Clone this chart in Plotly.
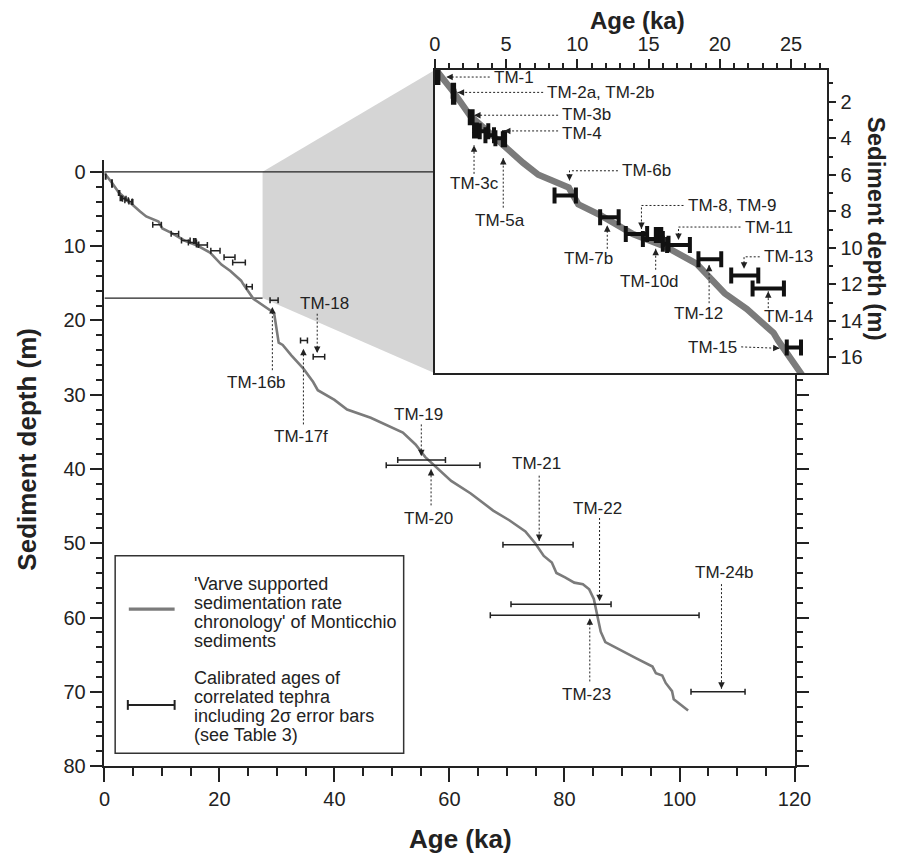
import plotly.graph_objects as go

W, H = 908, 865
FONT = "Liberation Sans, Arial, sans-serif"
INK = "#222222"
CURVE_COLOR = "#7b7b7b"

# ---------------- data ----------------
curve_age = [0.0, 0.2, 1.3, 2.47, 3.8, 5.0, 6.2, 7.26, 8.5, 9.4, 10.07, 11.64, 13.9, 16.23,
             18.36, 19.6, 20.34, 21.9, 23.77, 24.1, 25.55, 25.9, 29.5, 30.3, 31.0, 32.5, 34.6,
             36.3, 37.1, 40.0, 42.2, 46.3, 51.9, 54.1, 55.8, 57.1, 60.3, 63.7, 67.6, 70.4, 73.2,
             74.9, 76.4, 77.8, 78.6, 80.1, 81.7, 83.2, 84.3, 85.1, 85.7, 86.3, 87.1, 90.2, 92.5,
             95.3, 95.9, 97.0, 97.6, 98.7, 99.0, 101.5]
curve_depth = [0.0, 0.38, 1.46, 2.76, 3.68, 4.54, 5.35, 6.0, 6.42, 6.7, 7.62, 8.22, 9.24, 9.95,
               10.86, 11.95, 12.49, 13.35, 14.65, 15.08, 16.81, 17.1, 19.0, 23.0, 23.3, 24.7, 26.5,
               28.3, 29.4, 30.7, 32.0, 33.1, 35.1, 36.7, 38.4, 39.3, 41.6, 43.3, 45.6, 46.9, 48.4,
               50.0, 51.7, 52.6, 54.0, 54.6, 55.3, 55.5, 56.2, 57.5, 59.7, 61.9, 63.3, 64.6, 65.5,
               66.6, 67.5, 67.8, 68.8, 69.9, 71.0, 72.5]

tephra_name = ["TM-1", "TM-2a", "TM-2b", "TM-3b", "TM-3c", "", "", "TM-4", "TM-5a", "TM-6b",
               "TM-7b", "TM-8", "TM-9", "", "", "TM-10d", "TM-11", "TM-12", "TM-13", "TM-14",
               "TM-15", "TM-16b", "TM-17f", "TM-18", "TM-19", "TM-20", "TM-21", "TM-22", "TM-23",
               "TM-24b"]
tephra_age = [0.2, 1.3, 1.32, 2.55, 2.85, 3.45, 3.85, 4.55, 4.85, 9.15, 12.25, 14.15, 15.3, 15.55,
              15.85, 16.2, 17.1, 19.3, 21.75, 23.4, 25.2, 29.5, 34.7, 37.3, 55.15, 57.15, 75.4,
              79.4, 85.25, 106.7]
tephra_err = [0.05, 0.05, 0.05, 0.1, 0.1, 0.3, 0.3, 0.3, 0.08, 0.75, 0.65, 0.75, 0.7, 0.04, 0.04,
              0.2, 0.8, 0.8, 0.95, 1.1, 0.5, 0.7, 0.6, 1.0, 4.15, 8.15, 6.1, 8.7, 18.15, 4.7]
tephra_depth = [0.65, 1.4, 1.73, 2.85, 3.57, 3.62, 3.84, 4.0, 4.05, 7.14, 8.32, 9.24, 9.51, 9.3,
                9.3, 9.78, 9.84, 10.62, 11.51, 12.22, 15.46, 17.3, 22.7, 24.9, 38.8, 39.5, 50.2,
                58.2, 59.7, 70.0]

zoom_age_max = 27.5
zoom_depth_max = 17.0

# ---------------- geometry ----------------
main_x_dom = [101 / W, 809 / W]
main_y_dom = [1 - 776 / H, 1 - 162 / H]
inset_x_dom = [440 / W, 842 / W]
inset_y_dom = [1 - 378 / H, 1 - 71 / H]
main_xr = [0, 120]
main_yr = [80, -1.6]
inset_xr = [0, 27.5]
inset_yr = [16.86, 0.27]

AX = {
    "main": (main_x_dom, main_y_dom, main_xr, main_yr, "x", "y"),
    "inset": (inset_x_dom, inset_y_dom, inset_xr, inset_yr, "x2", "y2"),
}


def to_paper(which, xv, yv):
    xd, yd, xr, yr, _, _ = AX[which]
    px = xd[0] + (xv - xr[0]) / (xr[1] - xr[0]) * (xd[1] - xd[0])
    py = yd[0] + (yv - yr[0]) / (yr[1] - yr[0]) * (yd[1] - yd[0])
    return px, py


def px_scale(which):
    xd, yd, xr, yr, _, _ = AX[which]
    sx = (xd[1] - xd[0]) * W / (xr[1] - xr[0])
    sy = (yd[1] - yd[0]) * H / (yr[1] - yr[0])  # paper-up per unit
    return sx, sy


# callouts: label text, axes, label position, anchor, dotted path ending at arrow tip
callouts = [
    ("TM-1", "inset", (4.0, 0.65), "left", [(3.85, 0.65), (0.8, 0.65)]),
    ("TM-2a, TM-2b", "inset", (7.75, 1.49), "left", [(7.6, 1.49), (1.6, 1.49)]),
    ("TM-3b", "inset", (8.8, 2.68), "left", [(8.65, 2.74), (2.75, 2.74)]),
    ("TM-4", "inset", (8.8, 3.74), "left", [(8.65, 3.6), (4.85, 3.6)]),
    ("TM-3c", "inset", (2.75, 6.45), "center", [(2.75, 5.95), (2.75, 4.38)]),
    ("TM-5a", "inset", (4.6, 8.5), "center", [(4.8, 7.8), (4.8, 5.08)]),
    ("TM-6b", "inset", (13.0, 5.78), "left", [(12.85, 5.78), (9.45, 5.78), (9.45, 6.32)]),
    ("TM-7b", "inset", (10.75, 10.6), "center", [(12.1, 10.05), (12.1, 8.76)]),
    ("TM-8, TM-9", "inset", (17.6, 7.68), "left", [(17.45, 7.68), (14.5, 7.68), (14.5, 8.97)]),
    ("TM-11", "inset", (21.6, 8.86), "left", [(21.45, 8.86), (17.1, 8.86), (17.1, 9.57)]),
    ("TM-10d", "inset", (15.05, 11.85), "center", [(15.5, 11.2), (15.5, 10.05)]),
    ("TM-12", "inset", (18.5, 13.57), "center", [(19.25, 13.03), (19.25, 10.92)]),
    ("TM-13", "inset", (22.95, 10.49), "left", [(22.8, 10.49), (21.7, 10.49), (21.7, 11.14)]),
    ("TM-14", "inset", (24.8, 13.73), "center", [(23.4, 13.3), (23.4, 12.38)]),
    ("TM-15", "inset", (21.35, 15.46), "right", [(21.5, 15.42), (24.2, 15.5)]),
    ("TM-16b", "main", (26.4, 28.3), "center", [(29.2, 26.7), (29.2, 18.2)]),
    ("TM-17f", "main", (34.2, 35.6), "center", [(34.6, 34.0), (34.6, 23.8)]),
    ("TM-18", "main", (38.3, 17.7), "center", [(37.0, 19.1), (37.0, 24.4)]),
    ("TM-19", "main", (54.6, 32.7), "center", [(55.1, 34.0), (55.1, 38.3)]),
    ("TM-20", "main", (56.3, 46.6), "center", [(56.8, 44.9), (56.8, 40.0)]),
    ("TM-21", "main", (75.1, 39.2), "center", [(75.6, 40.9), (75.6, 49.7)]),
    ("TM-22", "main", (85.8, 45.3), "center", [(86.1, 46.6), (86.1, 57.8)]),
    ("TM-23", "main", (83.9, 70.4), "center", [(84.4, 68.6), (84.4, 60.1)]),
    ("TM-24b", "main", (107.8, 54.0), "center", [(107.3, 55.5), (107.3, 69.6)]),
]

fig = go.Figure()

# main curve and error bars
fig.add_trace(go.Scatter(x=curve_age, y=curve_depth, mode="lines", xaxis="x", yaxis="y",
                         line=dict(color=CURVE_COLOR, width=2.6), hoverinfo="skip",
                         showlegend=False))
fig.add_trace(go.Scatter(x=tephra_age, y=tephra_depth, mode="markers", xaxis="x", yaxis="y",
                         marker=dict(size=1, color="rgba(0,0,0,0)"),
                         error_x=dict(type="data", array=tephra_err, symmetric=True,
                                      color=INK, thickness=1.5, width=3),
                         hoverinfo="skip", showlegend=False))

# inset curve and error bars
in_idx = [i for i, d in enumerate(tephra_depth)
          if d <= zoom_depth_max and tephra_age[i] <= zoom_age_max]
fig.add_trace(go.Scatter(x=curve_age, y=curve_depth, mode="lines", xaxis="x2", yaxis="y2",
                         line=dict(color=CURVE_COLOR, width=6.5), hoverinfo="skip",
                         showlegend=False))
fig.add_trace(go.Scatter(x=[tephra_age[i] for i in in_idx], y=[tephra_depth[i] for i in in_idx],
                         mode="markers", xaxis="x2", yaxis="y2",
                         marker=dict(size=1, color="rgba(0,0,0,0)"),
                         error_x=dict(type="data", array=[tephra_err[i] for i in in_idx],
                                      symmetric=True, color="#111", thickness=4, width=8),
                         hoverinfo="skip", showlegend=False))

annotations = []

# callouts: dotted line + arrow head + label
for text, which, (lx, ly), anchor, path in callouts:
    _, _, _, _, xa, ya = AX[which]
    fig.add_trace(go.Scatter(x=[p[0] for p in path], y=[p[1] for p in path], mode="lines",
                             xaxis=xa, yaxis=ya, line=dict(color=INK, width=1, dash="2px,2px"),
                             hoverinfo="skip", showlegend=False))
    (x0, y0), (x1, y1) = path[-2], path[-1]
    sx, sy = px_scale(which)
    dxp = (x1 - x0) * sx
    dyp = -(y1 - y0) * sy  # screen-down positive
    n = (dxp ** 2 + dyp ** 2) ** 0.5
    annotations.append(dict(x=x1, y=y1, xref=xa, yref=ya, ax=-dxp / n * 8, ay=-dyp / n * 8,
                            axref="pixel", ayref="pixel", text="", showarrow=True,
                            arrowhead=2, arrowsize=1.3, arrowwidth=1, arrowcolor=INK,
                            standoff=0))
    annotations.append(dict(x=lx, y=ly, xref=xa, yref=ya, text=text, showarrow=False,
                            xanchor=anchor, yanchor="middle",
                            font=dict(family=FONT, size=17, color=INK)))

# grey zoom connector and zoom box
ax_, ay_ = to_paper("main", zoom_age_max, 0)
dx_, dy_ = to_paper("main", zoom_age_max, zoom_depth_max)
lx0, ly0 = to_paper("main", 0, 0)
shapes = [
    dict(type="path", xref="paper", yref="paper", layer="below",
         path=(f"M {ax_},{ay_} L {inset_x_dom[0]},{inset_y_dom[1]} "
               f"L {inset_x_dom[0]},{inset_y_dom[0]} L {dx_},{dy_} Z"),
         fillcolor="#d5d5d5", line=dict(width=0)),
    dict(type="line", xref="paper", yref="paper", layer="below", x0=lx0, y0=ly0,
         x1=inset_x_dom[0], y1=ly0, line=dict(color=INK, width=1.3)),
    dict(type="line", xref="x", yref="y", layer="below", x0=0, y0=zoom_depth_max,
         x1=zoom_age_max, y1=zoom_depth_max, line=dict(color=INK, width=1.2)),
]

# legend (drawn manually)
def pp(px, py):
    return px / W, 1 - py / H

bx0, by0 = pp(112, 763)
bx1, by1 = pp(408, 563)
shapes.append(dict(type="rect", xref="paper", yref="paper", x0=bx0, y0=by0, x1=bx1, y1=by1,
                   line=dict(color="#333", width=1.5), fillcolor="white", layer="above"))
g0 = pp(126, 617); g1 = pp(173, 617)
shapes.append(dict(type="line", xref="paper", yref="paper", x0=g0[0], y0=g0[1], x1=g1[0],
                   y1=g1[1], line=dict(color=CURVE_COLOR, width=3.2), layer="above"))
e0 = pp(125, 714); e1 = pp(173, 714)
shapes.append(dict(type="line", xref="paper", yref="paper", x0=e0[0], y0=e0[1], x1=e1[0],
                   y1=e1[1], line=dict(color=INK, width=2), layer="above"))
for cx in (125, 173):
    c0 = pp(cx, 709); c1 = pp(cx, 719)
    shapes.append(dict(type="line", xref="paper", yref="paper", x0=c0[0], y0=c0[1],
                       x1=c1[0], y1=c1[1], line=dict(color=INK, width=2), layer="above"))

legend_lines = [("'Varve supported", 592), ("sedimentation rate", 611),
                ("chronology' of Monticchio", 630), ("sediments", 649),
                ("Calibrated ages of", 687), ("correlated tephra", 706),
                ("including 2σ error bars", 725), ("(see Table 3)", 744)]
for txt, py in legend_lines:
    x, y = pp(191, py)
    annotations.append(dict(x=x, y=y, xref="paper", yref="paper", text=txt, showarrow=False,
                            xanchor="left", yanchor="middle",
                            font=dict(family=FONT, size=18, color=INK)))

# axis titles
titles = [
    ("<b>Age (ka)</b>", 466, 850, 0, 26),
    ("<b>Sediment depth (m)</b>", 22, 455, -90, 26),
    ("<b>Age (ka)</b>", 648, 21, 0, 24),
    ("<b>Sediment depth (m)</b>", 894, 232, 90, 24),
]
for txt, px, py, ang, sz in titles:
    x, y = pp(px, py)
    annotations.append(dict(x=x, y=y, xref="paper", yref="paper", text=txt, showarrow=False,
                            xanchor="center", yanchor="middle", textangle=ang,
                            font=dict(family=FONT, size=sz, color=INK)))

tickfont = dict(family=FONT, size=20, color=INK)
common = dict(showgrid=False, zeroline=False, showline=True, linecolor=INK, linewidth=1.5,
              ticks="outside", tickcolor=INK, tickwidth=1.5, tickfont=tickfont)

fig.update_layout(
    width=W, height=H, autosize=False,
    margin=dict(l=0, r=0, t=0, b=0),
    paper_bgcolor="white", plot_bgcolor="white",
    showlegend=False,
    xaxis=dict(domain=main_x_dom, range=main_xr, anchor="y", tick0=0, dtick=20, ticklen=14,
               minor=dict(dtick=5, ticklen=8, tickwidth=1.5, tickcolor=INK, ticks="outside"),
               **common),
    yaxis=dict(domain=main_y_dom, range=main_yr, anchor="x", tick0=0, dtick=10, ticklen=13,
               mirror="ticks",
               minor=dict(dtick=2, ticklen=7, tickwidth=1.5, tickcolor=INK, ticks="outside"),
               **common),
    xaxis2=dict(domain=inset_x_dom, range=inset_xr, anchor="y2", side="top", tick0=0, dtick=5,
                ticklen=9, mirror=True,
                minor=dict(dtick=1, ticklen=5, tickwidth=1.5, tickcolor=INK, ticks="outside"),
                **common),
    yaxis2=dict(domain=inset_y_dom, range=inset_yr, anchor="x2", side="right", tick0=0,
                dtick=2, ticklen=8, mirror=True,
                minor=dict(dtick=1, ticklen=5, tickwidth=1.5, tickcolor=INK, ticks="outside"),
                **common),
    shapes=shapes,
    annotations=annotations,
)

fig.write_html("out.html")
